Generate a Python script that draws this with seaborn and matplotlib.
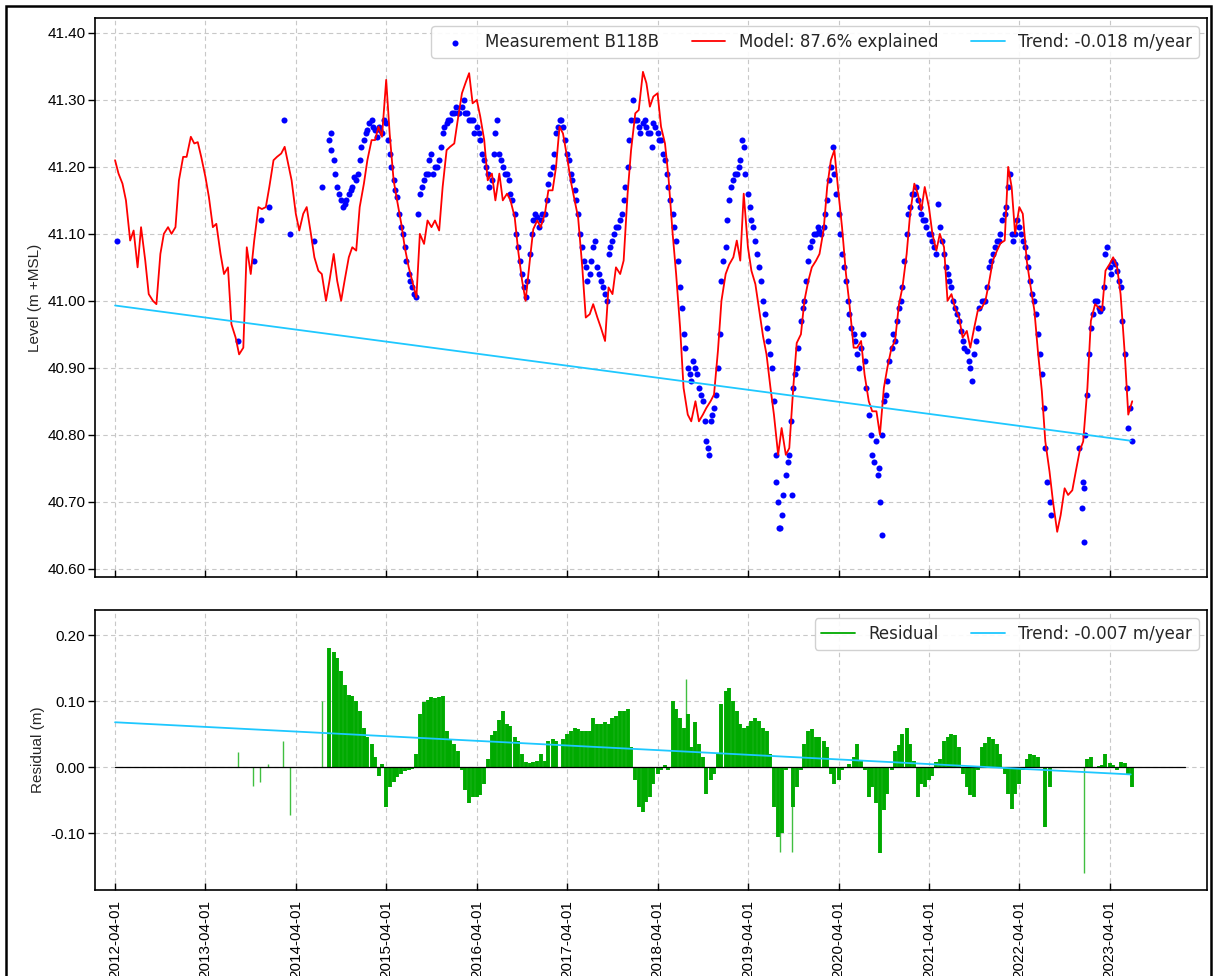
import matplotlib
matplotlib.use("Agg")
import matplotlib.pyplot as plt
import matplotlib.dates as mdates
from matplotlib.lines import Line2D
from matplotlib.patches import Rectangle
from matplotlib.ticker import FormatStrFormatter, MultipleLocator
import numpy as np
import pandas as pd
import seaborn as sns

nan = np.nan
BLUE, RED, CYAN, GREEN = "#0000ff", "#ff0000", "#1ec8ff", "#00aa00"

# model, every half month from 2012-04-01
MODEL_START = "2012-04-01"
model_level = [
    41.21, 41.19, 41.175, 41.15, 41.09, 41.105, 41.05, 41.11, 41.06, 41.01, 41.00, 40.995,
    41.07, 41.10, 41.11, 41.10, 41.11, 41.18, 41.215, 41.215, 41.245, 41.235, 41.237, 41.215,
    41.185, 41.155, 41.11, 41.115, 41.07, 41.04, 41.05, 40.965, 40.945, 40.92, 40.93, 41.08,
    41.04, 41.09, 41.14, 41.137, 41.14, 41.17, 41.21, 41.215, 41.22, 41.23, 41.205, 41.18,
    41.13, 41.105, 41.13, 41.14, 41.10, 41.065, 41.045, 41.04, 41.00, 41.03, 41.07, 41.03,
    41.00, 41.03, 41.065, 41.08, 41.075, 41.14, 41.175, 41.21, 41.24, 41.24, 41.26, 41.245,
    41.33, 41.25, 41.18, 41.15, 41.115, 41.08, 41.05, 41.03, 41.005, 41.10, 41.085, 41.12,
    41.11, 41.12, 41.105, 41.17, 41.225, 41.23, 41.235, 41.27, 41.31, 41.325, 41.34, 41.295,
    41.30, 41.275, 41.24, 41.18, 41.19, 41.15, 41.19, 41.15, 41.16, 41.15, 41.125, 41.075,
    41.03, 41.00, 41.06, 41.107, 41.12, 41.11, 41.13, 41.165, 41.165, 41.20, 41.26, 41.25,
    41.214, 41.18, 41.15, 41.125, 41.05, 40.975, 40.98, 40.995, 40.975, 40.96, 40.94, 41.02,
    41.01, 41.05, 41.04, 41.06, 41.16, 41.225, 41.28, 41.285, 41.342, 41.325, 41.29, 41.305,
    41.31, 41.26, 41.235, 41.185, 41.10, 41.04, 40.96, 40.87, 40.83, 40.82, 40.85, 40.82,
    40.83, 40.84, 40.85, 40.86, 40.926, 41.00, 41.04, 41.054, 41.065, 41.09, 41.06, 41.16,
    41.08, 41.045, 41.025, 40.99, 40.947, 40.92, 40.87, 40.83, 40.77, 40.81, 40.77, 40.78,
    40.87, 40.937, 40.95, 41.00, 41.03, 41.05, 41.06, 41.07, 41.107, 41.17, 41.21, 41.225,
    41.16, 41.11, 41.04, 40.995, 40.93, 40.93, 40.94, 40.89, 40.85, 40.835, 40.835, 40.80,
    40.87, 40.90, 40.93, 40.94, 40.995, 41.02, 41.07, 41.13, 41.175, 41.16, 41.135, 41.17,
    41.14, 41.10, 41.075, 41.10, 41.08, 41.00, 41.01, 40.99, 40.975, 40.945, 40.955, 40.93,
    40.96, 40.985, 40.99, 41.00, 41.03, 41.06, 41.075, 41.086, 41.09, 41.20, 41.17, 41.10,
    41.14, 41.13, 41.06, 41.025, 40.985, 40.925, 40.865, 40.79, 40.745, 40.70, 40.655, 40.68,
    40.72, 40.71, 40.717, 40.745, 40.776, 40.79, 40.87, 40.97, 40.995, 40.99, 40.985, 41.045,
    41.055, 41.065, 41.05, 41.01, 40.92, 40.83, 40.85,
]

# measurements B118B, every half month from 2014-08-15
MEAS_START = "2014-08-15"
meas_level = [
    41.24, 41.21, 41.17,
    41.15, 41.145, 41.16, 41.17, 41.18, 41.21, 41.24, 41.255, 41.27, 41.255, 41.26, 41.25,
    41.265, 41.22, 41.18, 41.155, 41.11, 41.08, 41.04, 41.02, 41.005, 41.16, 41.18, 41.19,
    41.22, 41.20, 41.21, 41.25, 41.265, 41.27, 41.28, 41.28, 41.29, 41.28, 41.27, 41.27,
    41.26, 41.24, 41.21, 41.19, 41.18, 41.25, 41.22, 41.20, 41.19, 41.16, 41.13, 41.08,
    41.04, 41.005, 41.07, 41.12, 41.125, 41.12, 41.13, 41.175, 41.20, 41.25, 41.27, 41.26,
    41.22, 41.19, 41.165, 41.13, 41.08, 41.05, 41.04, 41.08, 41.05, 41.03, 41.01, 41.07,
    41.09, 41.11, 41.12, 41.15, 41.20, 41.27, 41.27, 41.26, 41.265, 41.26, 41.25, 41.265,
    41.25, 41.24, 41.21, 41.17, 41.13, 41.09, 41.02, 40.95, 40.90, 40.88, 40.90, 40.87,
    40.85, 40.79, 40.82, 40.84, 40.90, 41.03, 41.08, 41.15, 41.18, 41.19, 41.21, 41.23,
    41.16, 41.12, 41.09, 41.05, 41.00, 40.96, 40.92, 40.85, 40.70, 40.68, 40.74, 40.77,
    40.87, 40.90, 40.97, 41.00, 41.06, 41.09, 41.10, 41.105, 41.11, 41.15, 41.20, 41.19,
    41.13, 41.07, 41.03, 40.98, 40.95, 40.92, 40.93, 40.91, 40.83, 40.77, 40.79, 40.70,
    40.85, 40.88, 40.93, 40.94, 40.99, 41.02, 41.10, 41.14, 41.16, 41.15, 41.13, 41.12,
    41.10, 41.09, 41.07, 41.11, 41.07, 41.04, 41.02, 40.99, 40.97, 40.94, 40.925, 40.90,
    40.92, 40.96, 41.00, 41.00, 41.05, 41.07, 41.09, 41.10, 41.13, 41.17, 41.10, 41.10,
    41.11, 41.09, 41.065, 41.03, 41.00, 40.95, 40.89, 40.78, 40.70,
    nan, nan, nan, nan, nan, nan, nan, nan,
    40.73, 40.86, 40.96, 41.00, 40.99, 40.99, 41.07, 41.05, 41.06, 41.045, 41.02, 40.92,
    40.81, 40.79,
]

# second reading in each half month, one week after the first
meas_level_week2 = [
    41.225, 41.19, 41.16,
    41.14, 41.15, 41.165, 41.185, 41.19, 41.23, 41.25, 41.265, 41.26, 41.245, 41.255, 41.27,
    41.24, 41.20, 41.165, 41.13, 41.10, 41.06, 41.03, 41.01, 41.13, 41.17, 41.19, 41.21,
    41.19, 41.20, 41.23, 41.26, 41.27, 41.28, 41.29, 41.28, 41.30, 41.28, 41.27, 41.25,
    41.25, 41.22, 41.20, 41.17, 41.22, 41.27, 41.21, 41.19, 41.18, 41.15, 41.10, 41.06,
    41.02, 41.03, 41.10, 41.13, 41.11, 41.13, 41.15, 41.19, 41.22, 41.26, 41.27, 41.24,
    41.21, 41.18, 41.15, 41.10, 41.06, 41.03, 41.06, 41.09, 41.04, 41.02, 41.00, 41.08,
    41.10, 41.11, 41.13, 41.17, 41.24, 41.30, 41.27, 41.25, 41.27, 41.25, 41.23, 41.26,
    41.24, 41.22, 41.19, 41.15, 41.11, 41.06, 40.99, 40.93, 40.89, 40.91, 40.89, 40.86,
    40.82, 40.78, 40.83, 40.86, 40.95, 41.06, 41.12, 41.17, 41.19, 41.20, 41.24, 41.19,
    41.14, 41.11, 41.07, 41.03, 40.98, 40.94, 40.90, 40.77, 40.66, 40.71, 40.76, 40.82,
    40.89, 40.93, 40.99, 41.03, 41.08, 41.10, 41.11, 41.10, 41.13, 41.18, 41.23, 41.16,
    41.10, 41.05, 41.00, 40.96, 40.94, 40.90, 40.95, 40.87, 40.80, 40.76, 40.74, 40.80,
    40.86, 40.91, 40.95, 40.97, 41.00, 41.06, 41.13, 41.16, 41.17, 41.14, 41.12, 41.11,
    41.10, 41.08, 41.145, 41.09, 41.05, 41.03, 41.00, 40.98, 40.955, 40.93, 40.91, 40.88,
    40.94, 40.99, 41.00, 41.02, 41.06, 41.08, 41.09, 41.12, 41.14, 41.19, 41.09, 41.12,
    41.10, 41.08, 41.05, 41.01, 40.98, 40.92, 40.84, 40.73, 40.68,
    nan, nan, nan, nan, nan, nan, nan, nan,
    40.80, 40.92, 40.98, 41.00, 40.985, 41.02, 41.08, 41.04, 41.055, 41.03, 40.97, 40.87,
    40.84, nan,
]

# loose readings outside the regular series
extra_meas_dates = [
    "2012-04-10", "2013-08-10", "2013-10-15", "2013-11-13", "2013-12-13", "2014-02-13",
    "2014-03-10", "2014-06-13", "2014-07-16", "2014-08-20", "2018-10-25", "2019-07-25",
    "2019-08-05", "2019-09-27", "2020-09-10", "2020-09-25", "2022-11-28", "2022-12-12",
    "2022-12-17", "2022-12-20",
]
extra_meas_level = [
    41.09, 40.94, 41.06, 41.12, 41.14, 41.27,
    41.10, 41.09, 41.17, 41.25, 40.77, 40.73,
    40.66, 40.71, 40.75, 40.65, 40.78, 40.69,
    40.64, 40.72,
]

# residual, every half month from 2014-08-15
resid_value = [
    0.18, 0.174, 0.165,
    0.145, 0.125, 0.11, 0.108, 0.10, 0.085, 0.06, 0.045, 0.035, 0.015, -0.013, 0.005,
    -0.06, -0.03, -0.022, -0.015, -0.01, -0.006, -0.004, -0.003, 0.02, 0.08, 0.098, 0.102,
    0.106, 0.105, 0.106, 0.108, 0.055, 0.042, 0.035, 0.025, -0.005, -0.035, -0.055, -0.045,
    -0.045, -0.042, -0.025, 0.012, 0.048, 0.055, 0.072, 0.085, 0.065, 0.062, 0.045, 0.04,
    0.02, 0.008, 0.006, 0.008, 0.01, 0.02, 0.01, 0.04, 0.042, 0.04, 0.0, 0.043,
    0.05, 0.055, 0.06, 0.058, 0.055, 0.055, 0.055, 0.075, 0.065, 0.065, 0.068, 0.065,
    0.075, 0.078, 0.085, 0.085, 0.088, 0.03, -0.02, -0.06, -0.068, -0.052, -0.045, -0.025,
    -0.01, -0.005, 0.004, -0.005, 0.10, 0.088, 0.075, 0.06, 0.08, 0.03, 0.068, 0.035,
    0.015, -0.04, -0.02, -0.01, 0.02, 0.095, 0.115, 0.12, 0.10, 0.085, 0.065, 0.06,
    0.063, 0.07, 0.075, 0.07, 0.06, 0.055, 0.02, -0.06, -0.105, -0.10, -0.005, 0.0,
    -0.06, -0.03, -0.005, 0.035, 0.055, 0.058, 0.045, 0.045, 0.04, 0.03, -0.01, -0.025,
    -0.02, -0.005, 0.0, 0.005, 0.015, 0.035, 0.01, -0.005, -0.045, -0.03, -0.055, -0.13,
    -0.065, -0.04, -0.005, 0.025, 0.033, 0.05, 0.06, 0.035, 0.01, -0.045, -0.025, -0.03,
    -0.02, -0.013, 0.008, 0.012, 0.04, 0.045, 0.05, 0.048, 0.03, -0.01, -0.03, -0.042,
    -0.045, -0.005, 0.03, 0.036, 0.045, 0.043, 0.035, 0.02, -0.01, -0.04, -0.063, -0.04,
    -0.025, -0.005, 0.012, 0.02, 0.018, 0.015, 0.0, -0.09, -0.03,
    nan, nan, nan, nan, nan, nan, nan, nan, nan,
    0.012, 0.015, 0.0, 0.002, 0.004, 0.02, 0.006, 0.004, -0.005, 0.008, 0.006, -0.01,
    -0.03,
]

# single-day residual spikes
spike_dates = [
    "2013-08-10", "2013-10-12", "2013-11-07", "2013-12-10", "2014-02-10", "2014-03-10",
    "2014-07-16", "2018-07-23", "2019-08-07", "2019-09-27", "2022-12-17",
]
spike_value = [0.023, -0.028, -0.023, 0.005, 0.04, -0.073, 0.10, 0.133, -0.128, -0.128, -0.161]

trend_dates = ["2012-04-01", "2023-06-25"]
trend_level = [40.993, 40.791]
resid_trend_value = [0.068, -0.011]
zero_dates = ["2012-04-01", "2024-02-01"]
tick_dates = [f"{year}-04-01" for year in range(2012, 2024)]


def style_axes(ax):
    ax.grid(True, linestyle=(0, (4, 3)), color="#c8c8c8", linewidth=0.8)
    for spine in ax.spines.values():
        spine.set_visible(True)
        spine.set_color("black")
        spine.set_linewidth(1.2)
    ax.tick_params(axis="x", direction="in", length=5, width=1, pad=7, labelsize=11, colors="black")
    ax.tick_params(axis="y", direction="out", length=5, width=1, pad=2, labelsize=11, colors="black")
    ax.yaxis.set_major_formatter(FormatStrFormatter("%.2f"))
    ax.yaxis.set_major_locator(MultipleLocator(0.1))
    ax.set_xlabel("")


def main():
    sms = pd.date_range(MEAS_START, periods=len(meas_level), freq="SMS")
    model = pd.DataFrame({"date": pd.date_range(MODEL_START, periods=len(model_level), freq="SMS"),
                          "level": model_level})
    meas = pd.concat([
        pd.DataFrame({"date": sms, "level": meas_level}),
        pd.DataFrame({"date": sms + pd.Timedelta(days=7), "level": meas_level_week2}),
        pd.DataFrame({"date": pd.to_datetime(extra_meas_dates), "level": extra_meas_level}),
    ]).dropna()
    resid = pd.DataFrame({"date": pd.date_range(MEAS_START, periods=len(resid_value), freq="SMS"),
                          "value": resid_value}).dropna()
    trend = pd.DataFrame({"date": pd.to_datetime(trend_dates), "level": trend_level})
    resid_trend = pd.DataFrame({"date": pd.to_datetime(trend_dates), "value": resid_trend_value})

    sns.set_theme(style="ticks")
    plt.rcParams["font.family"] = ["Liberation Sans", "DejaVu Sans"]

    W, H = 1214, 976
    fig = plt.figure(figsize=(W / 100, H / 100), dpi=100)
    ax1 = fig.add_axes([95 / W, 1 - 577 / H, (1207 - 95) / W, (577 - 18) / H])
    ax2 = fig.add_axes([95 / W, 1 - 890 / H, (1207 - 95) / W, (890 - 610) / H], sharex=ax1)

    # top panel
    sns.scatterplot(data=meas, x="date", y="level", ax=ax1, color=BLUE, s=19, linewidth=0,
                    label="Measurement B118B", zorder=2)
    sns.lineplot(data=model, x="date", y="level", ax=ax1, color=RED, linewidth=1.3,
                 label="Model: 87.6% explained", zorder=3)
    sns.lineplot(data=trend, x="date", y="level", ax=ax1, color=CYAN, linewidth=1.3,
                 label="Trend: -0.018 m/year", zorder=4)
    ax1.set_ylim(40.5875, 41.4224)
    ax1.set_ylabel("Level (m +MSL)", fontsize=11)
    ax1.legend(loc="upper right", ncol=3, prop={"family": "DejaVu Sans", "size": 12},
               edgecolor="#cccccc", framealpha=0.9, markerscale=1.0)

    # residual panel
    ax2.vlines(resid["date"], 0, resid["value"], color=GREEN, linewidth=2.8, zorder=2)
    ax2.vlines(pd.to_datetime(spike_dates), 0, spike_value, color=GREEN, linewidth=1.0, alpha=0.75, zorder=2)
    ax2.plot(pd.to_datetime(zero_dates), [0, 0], color="black", linewidth=0.9, zorder=3)
    sns.lineplot(data=resid_trend, x="date", y="value", ax=ax2, color=CYAN, linewidth=1.3,
                 label="Trend: -0.007 m/year", zorder=4)
    ax2.set_ylim(-0.186, 0.238)
    ax2.set_ylabel("Residual (m)", fontsize=11)
    handles = [Line2D([], [], color=GREEN, linewidth=1.3), Line2D([], [], color=CYAN, linewidth=1.3)]
    ax2.legend(handles, ["Residual", "Trend: -0.007 m/year"], loc="upper right", ncol=2,
               prop={"family": "DejaVu Sans", "size": 12}, edgecolor="#cccccc", framealpha=0.9)

    for ax in (ax1, ax2):
        style_axes(ax)
    ax2.set_xticks(pd.to_datetime(tick_dates))
    ax2.xaxis.set_major_formatter(mdates.DateFormatter("%Y-%m-%d"))
    ax2.set_xlim(pd.Timestamp("2012-01-11"), pd.Timestamp("2024-04-28"))
    ax1.tick_params(axis="x", labelbottom=False)
    plt.setp(ax2.get_xticklabels(), rotation=90)

    # black frame of the screenshot
    fig.add_artist(Rectangle((6 / W, -0.05), (1211 - 6) / W, 1.05 - 6 / H, transform=fig.transFigure,
                             fill=False, edgecolor="black", linewidth=1.8))

    fig.savefig("out.png", dpi=100)
    plt.close(fig)


if __name__ == "__main__":
    main()
